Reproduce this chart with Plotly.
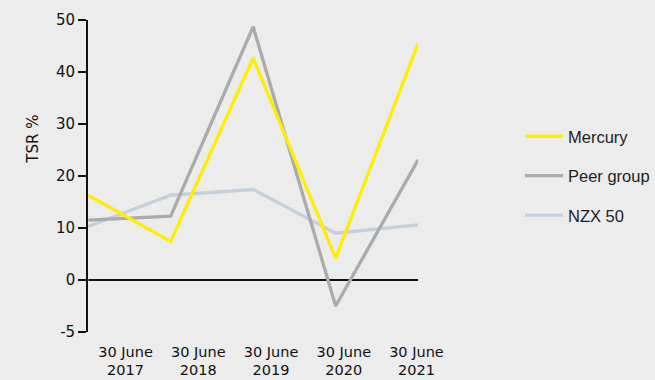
import plotly.graph_objects as go

# Total shareholder return (%) by financial year end
periods = ["30 June<br>2017", "30 June<br>2018", "30 June<br>2019", "30 June<br>2020", "30 June<br>2021"]
mercury = [16.3, 7.4, 42.7, 4.2, 45.5]
peer_group = [11.5, 12.3, 48.7, -5.0, 23.1]
nzx50 = [10.3, 16.3, 17.4, 9.0, 10.6]

series_names = ["Mercury", "Peer group", "NZX 50"]
series_colors = ["#FFEE00", "#ABABAB", "#C6D0DA"]
y_tickvals = [-10, 0, 10, 20, 30, 40, 50]
y_ticktext = ["-5", "0", "10", "20", "30", "40", "50"]

W, H = 655, 380
BG = "#ECECEC"
TICK_FONT = dict(family="'DejaVu Sans', sans-serif", size=15, color="#111111")
X_TICK_FONT = dict(family="'DejaVu Sans', sans-serif", size=14.5, color="#111111")

idx = list(range(len(periods)))

fig = go.Figure()
# Draw the lighter index first so the company lines sit on top
for name, vals, col in reversed(list(zip(series_names, [mercury, peer_group, nzx50], series_colors))):
    fig.add_trace(go.Scatter(
        x=idx, y=vals, name=name, mode="lines",
        line=dict(color=col, width=3.3),
        legendgroup=name, legendrank=series_names.index(name),
        xaxis="x", yaxis="y",
    ))

# Category axis carrying the period labels
fig.add_trace(go.Scatter(
    x=periods, y=[None] * len(periods), mode="lines",
    showlegend=False, hoverinfo="skip", xaxis="x2", yaxis="y",
))

px_x = lambda p: p / W
px_y = lambda p: 1 - p / H

fig.update_layout(
    width=W, height=H,
    margin=dict(l=0, r=0, t=0, b=0),
    paper_bgcolor=BG, plot_bgcolor="rgba(0,0,0,0)",
    showlegend=True,
    legend=dict(
        x=px_x(525), y=px_y(119), xanchor="left", yanchor="top",
        bgcolor="rgba(0,0,0,0)",
        font=dict(family="'Liberation Sans', Arial, sans-serif", size=16.5, color="#222222"),
        tracegroupgap=15, itemwidth=38,
    ),
    xaxis=dict(
        domain=[px_x(89), px_x(422)], range=[0, 4],
        showgrid=False, zeroline=False, showline=False,
        showticklabels=False, ticks="", anchor="y",
    ),
    xaxis2=dict(
        domain=[px_x(90), px_x(457)], type="category", range=[-0.5, len(periods) - 0.5],
        showgrid=False, zeroline=False, showline=False,
        ticks="", anchor="y", tickfont=X_TICK_FONT,
        ticklabelstandoff=9, automargin=False,
    ),
    yaxis=dict(
        domain=[px_y(332), px_y(20)], range=[-10, 50],
        tickvals=y_tickvals, ticktext=y_ticktext,
        showgrid=False, zeroline=False,
        showline=True, linecolor="#111111", linewidth=2,
        ticks="outside", ticklen=8, tickwidth=2, tickcolor="#111111",
        tickfont=TICK_FONT, anchor="x", automargin=False,
    ),
    shapes=[dict(
        type="line", xref="x", yref="y", x0=0, x1=4, y0=0, y1=0,
        line=dict(color="#111111", width=2), layer="below",
    )],
    annotations=[dict(
        text="TSR %", textangle=-90, xref="paper", yref="paper",
        x=px_x(33), y=px_y(139), xanchor="center", yanchor="middle",
        showarrow=False, font=TICK_FONT,
    )],
)

fig.write_html("out.html")
